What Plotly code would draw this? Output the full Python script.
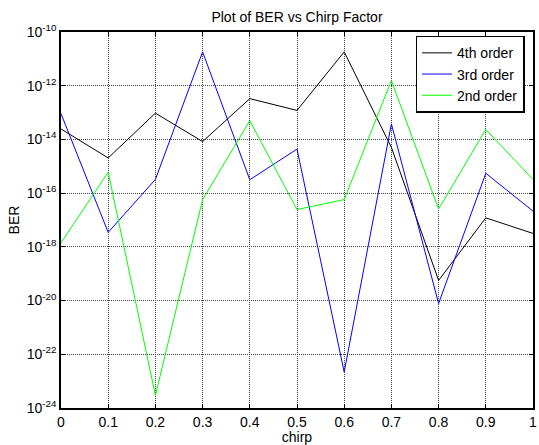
import plotly.graph_objects as go

chirp = [0, 0.1, 0.2, 0.3, 0.4, 0.5, 0.6, 0.7, 0.8, 0.9, 1.0]
log_4th = [-13.61, -14.69, -13.02, -14.08, -12.48, -12.92, -10.74, -14.30, -19.25, -16.92, -17.50]
log_3rd = [-13.04, -17.46, -15.49, -10.74, -15.50, -14.36, -22.66, -13.42, -20.11, -15.26, -16.67]
log_2nd = [-17.85, -15.22, -23.53, -16.24, -13.30, -16.61, -16.24, -11.81, -16.59, -13.63, -15.49]

series_names = ["4th order", "3rd order", "2nd order"]
series_colors = ["#000000", "#0000ff", "#00ff00"]

ytick_exps = [-10, -12, -14, -16, -18, -20, -22, -24]
ytick_text = ["10<sup>%d</sup>" % e for e in ytick_exps]
xtick_vals = [0, 0.1, 0.2, 0.3, 0.4, 0.5, 0.6, 0.7, 0.8, 0.9, 1]
xtick_text = ["0", "0.1", "0.2", "0.3", "0.4", "0.5", "0.6", "0.7", "0.8", "0.9", "1"]

fig = go.Figure()
for name, col, logs in zip(series_names, series_colors, [log_4th, log_3rd, log_2nd]):
    fig.add_trace(go.Scatter(
        x=chirp, y=[10 ** v for v in logs], mode="lines", name=name,
        line=dict(color=col, width=1)))

font = "Liberation Sans, Arial, sans-serif"
fig.update_layout(
    width=539, height=445,
    margin=dict(l=61, r=2, t=32, b=37),
    paper_bgcolor="white", plot_bgcolor="white",
    font=dict(family=font, size=14, color="black"),
    title=dict(text="Plot of BER vs Chirp Factor", x=0.5, xanchor="center",
               xref="paper", y=0.962, yanchor="middle", font=dict(size=14, family=font)),
    showlegend=True,
    legend=dict(x=0.982, xanchor="right", y=0.99, yanchor="top",
                bgcolor="white", bordercolor="black", borderwidth=1.5,
                font=dict(size=14, family=font), tracegroupgap=0,
                itemwidth=30),
)
fig.update_xaxes(
    range=[0, 1], tickvals=xtick_vals, ticktext=xtick_text,
    showline=True, linecolor="black", linewidth=1.5, mirror="ticks",
    ticks="inside", ticklen=4, tickcolor="black",
    showgrid=True, gridcolor="#444444", griddash="1px,1px", gridwidth=1,
    zeroline=False, ticklabeloverflow="allow",
    tickfont=dict(size=14),
    title=dict(text="chirp", font=dict(size=14), standoff=2),
)
fig.update_yaxes(
    type="log", range=[-24, -10], tickvals=[10 ** e for e in ytick_exps], ticktext=ytick_text,
    showline=True, linecolor="black", linewidth=1.5, mirror="ticks",
    ticks="inside", ticklen=4, tickcolor="black",
    showgrid=True, gridcolor="#444444", griddash="1px,1px", gridwidth=1,
    zeroline=False, tickfont=dict(size=14),
    title=dict(text="BER", font=dict(size=14), standoff=4),
)
fig.write_html("out.html")
